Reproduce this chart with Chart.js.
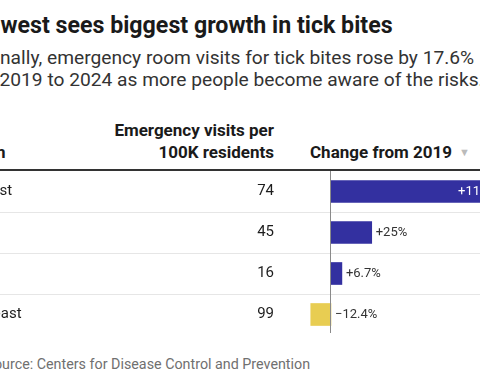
<!DOCTYPE html>
<html>
<head>
<meta charset="utf-8">
<script src="https://cdn.jsdelivr.net/npm/chart.js@4.4.1/dist/chart.umd.min.js"></script>
<style>
  html, body { margin:0; padding:0; background:#fff; }
  body { width:480px; height:384px; overflow:hidden; position:relative; font-family: Roboto, "Noto Sans", sans-serif; }
  .abs { position:absolute; white-space:nowrap; }
  #title { left:-39px; top:10px; font-size:23.2px; font-weight:700; color:#1a1a1a; line-height:30px; }
  #sub { left:-46px; top:46.5px; font-size:19.2px; color:#333; line-height:22px; }
  .hdr { font-size:17px; font-weight:700; color:#1a1a1a; line-height:22px; }
  #hRegion { left:-48px; top:140.5px; }
  #hVisits { right:206px; top:118.5px; text-align:right; }
  #hChange { left:310px; top:140.5px; }
  #hChange .arrow { color:#bbb; font-size:11px; margin-left:7px; vertical-align:2px; }
  #rule { left:0; top:169px; width:480px; height:2px; background:#333; }
  #src { left:-14.6px; top:355px; font-size:14.3px; color:#707070; line-height:18px; }
  #wrap { position:absolute; left:-50px; top:171px; width:580px; height:164px; }
</style>
</head>
<body>
<div id="title" class="abs">Midwest sees biggest growth in tick bites</div>
<div id="sub" class="abs">Nationally, emergency room visits for tick bites rose by 17.6%<br>from 2019 to 2024 as more people become aware of the risks.</div>
<div id="hRegion" class="abs hdr">Region</div>
<div id="hVisits" class="abs hdr">Emergency visits per<br>100K residents</div>
<div id="hChange" class="abs hdr">Change from 2019<span class="arrow">▼</span></div>
<div id="rule" class="abs"></div>
<div id="wrap"><canvas id="c" width="580" height="164"></canvas></div>
<div id="src" class="abs">Source: Centers for Disease Control and Prevention</div>
<script>
const regions = ['Midwest', 'South', 'West', 'Northeast'];
const visits = [74, 45, 16, 99];
const change = [111, 25, 6.7, -12.4];
const changeLabels = ['+111%', '+25%', '+6.7%', '\u221212.4%'];

const BLUE = '#3330a0';
const YELLOW = '#e8cd52';

const tablePlugin = {
  id: 'tablePlugin',
  beforeDatasetsDraw(chart) {
    const ctx = chart.ctx;
    const y = chart.scales.y;
    ctx.save();
    ctx.strokeStyle = '#e6e6e6';
    ctx.lineWidth = 1;
    for (let i = 0; i < regions.length - 1; i++) {
      const yy = Math.round((y.getPixelForValue(i) + y.getPixelForValue(i + 1)) / 2) + 0.5;
      ctx.beginPath();
      ctx.moveTo(0, yy);
      ctx.lineTo(chart.width, yy);
      ctx.stroke();
    }
    ctx.restore();
  },
  afterDatasetsDraw(chart) {
    const ctx = chart.ctx;
    const y = chart.scales.y;
    const x = chart.scales.x;
    const area = chart.chartArea;
    ctx.save();
    const x0 = Math.round(x.getPixelForValue(0)) - 0.5;
    ctx.strokeStyle = '#8a8a8a';
    ctx.lineWidth = 1;
    ctx.beginPath();
    ctx.moveTo(x0, area.top);
    ctx.lineTo(x0, area.bottom - 2);
    ctx.stroke();

    ctx.textBaseline = 'middle';
    ctx.font = '15px Roboto, "Noto Sans", sans-serif';
    ctx.fillStyle = '#1d1d1d';
    for (let i = 0; i < regions.length; i++) {
      const yc = y.getPixelForValue(i);
      ctx.textAlign = 'left';
      ctx.fillText(regions[i], 5, yc);
      ctx.textAlign = 'right';
      ctx.fillText(String(visits[i]), 324, yc);
    }
    ctx.font = '13px Roboto, "Noto Sans", sans-serif';
    const maxV = Math.max(...change);
    for (let i = 0; i < change.length; i++) {
      const yc = y.getPixelForValue(i);
      const v = change[i];
      if (v === maxV) {
        ctx.fillStyle = '#ffffff';
        ctx.textAlign = 'right';
        ctx.fillText(changeLabels[i], x.getPixelForValue(v) - 15, yc);
      } else if (v >= 0) {
        ctx.fillStyle = '#333';
        ctx.textAlign = 'left';
        ctx.fillText(changeLabels[i], x.getPixelForValue(v) + 4, yc);
      } else {
        ctx.fillStyle = '#333';
        ctx.textAlign = 'left';
        ctx.fillText(changeLabels[i], x.getPixelForValue(0) + 4, yc);
      }
    }
    ctx.restore();
  }
};

new Chart(document.getElementById('c'), {
  type: 'bar',
  data: {
    labels: regions,
    datasets: [{
      data: change,
      backgroundColor: change.map(v => v >= 0 ? BLUE : YELLOW),
      borderWidth: 0,
      barThickness: 22,
      borderSkipped: false
    }]
  },
  options: {
    indexAxis: 'y',
    responsive: false,
    animation: false,
    devicePixelRatio: 1,
    layout: { padding: { left: 350, right: 0, top: 0, bottom: 0 } },
    plugins: { legend: { display: false }, tooltip: { enabled: false }, title: { display: false } },
    scales: {
      x: { display: false, min: -19, max: 122.1 },
      y: { display: false, offset: true }
    }
  },
  plugins: [tablePlugin]
});
</script>
</body>
</html>
